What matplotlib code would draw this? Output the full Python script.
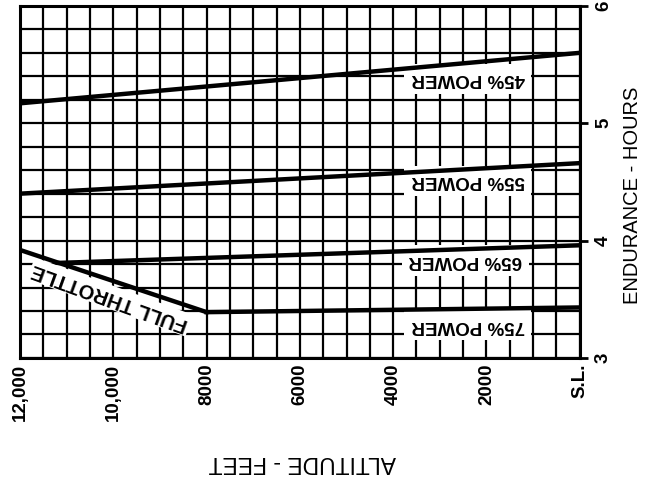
import numpy as np
import matplotlib
matplotlib.use("Agg")
from matplotlib import pyplot as plt

plt.rcParams['font.family'] = ['Liberation Sans', 'DejaVu Sans']

# Datos (altitud en pies, autonomia en horas)
alt_45 = [12000, 0]
hr_45 = [5.17, 5.60]
alt_55 = [12000, 0]
hr_55 = [4.40, 4.66]
alt_65 = [11150, 0]
hr_65 = [3.81, 3.96]
alt_75 = [8000, 0]
hr_75 = [3.39, 3.43]
alt_full = [12000, 8000]
hr_full = [3.92, 3.39]

power_names = ["45% POWER", "55% POWER", "65% POWER", "75% POWER"]
power_label_alt = [2400, 2400, 2450, 2400]
power_label_hr = [5.38, 4.51, 3.83, 3.28]

alt_ticks = [12000, 10000, 8000, 6000, 4000, 2000, 0]
alt_ticklabels = ["12,000", "10,000", "8000", "6000", "4000", "2000", "S.L."]
hr_ticks = [3, 4, 5, 6]

fig = plt.figure(figsize=(6.47, 4.93), dpi=100)
ax = fig.add_axes([0.031, 0.274, 0.865, 0.714])

# Cuadricula cada 500 pies y cada 0.2 horas
ax.set_xlim(12000, 0)
ax.set_ylim(3, 6)
ax.set_xticks(alt_ticks)
ax.set_xticklabels(alt_ticklabels, rotation=90, fontsize=13.5, fontweight="bold", va="top")
ax.set_xticks(np.arange(0, 12001, 500), minor=True)
ax.set_yticks(hr_ticks)
ax.set_yticks(np.arange(3, 6.01, 0.2), minor=True)
ax.grid(which="both", color="black", linewidth=1.6)
ax.set_axisbelow(True)

ax.tick_params(axis="x", which="both", length=0, pad=4)
ax.tick_params(axis="y", which="major", left=False, labelleft=False, right=True,
               labelright=True, length=6, width=2, pad=5, labelsize=13.5, labelrotation=90)
ax.tick_params(axis="y", which="minor", length=0)
for lbl in ax.get_yticklabels():
    lbl.set_va("center")
    lbl.set_fontweight("bold")

for s in ax.spines.values():
    s.set_linewidth(2.2)

# Lineas de potencia
ax.plot(alt_45, hr_45, color="black", linewidth=3.2, zorder=4)
ax.plot(alt_55, hr_55, color="black", linewidth=3.2, zorder=4)
ax.plot(alt_65, hr_65, color="black", linewidth=3.2, zorder=4)
ax.plot(alt_75, hr_75, color="black", linewidth=3.2, zorder=4)
ax.plot(alt_full, hr_full, color="black", linewidth=3.2, zorder=4)

for name, a, h in zip(power_names, power_label_alt, power_label_hr):
    ax.text(a, h, name, rotation=180, ha="center", va="center", fontsize=13.5,
            fontweight="bold", zorder=3,
            bbox=dict(facecolor="white", edgecolor="none", boxstyle="square,pad=0.35"))

ax.text(10070, 3.52, "FULL THROTTLE", rotation=160, ha="center", va="center",
        fontsize=14.5, fontweight="bold", zorder=3,
        bbox=dict(facecolor="white", edgecolor="none", boxstyle="square,pad=0.1"))

fig.text(632 / 647, 1 - 195 / 493, "ENDURANCE - HOURS", rotation=90,
         ha="center", va="center", fontsize=14.5)
fig.text(302 / 647, 1 - 463 / 493, "ALTITUDE - FEET", rotation=180,
         ha="center", va="center", fontsize=16.5)

fig.savefig("out.png", dpi=100)
